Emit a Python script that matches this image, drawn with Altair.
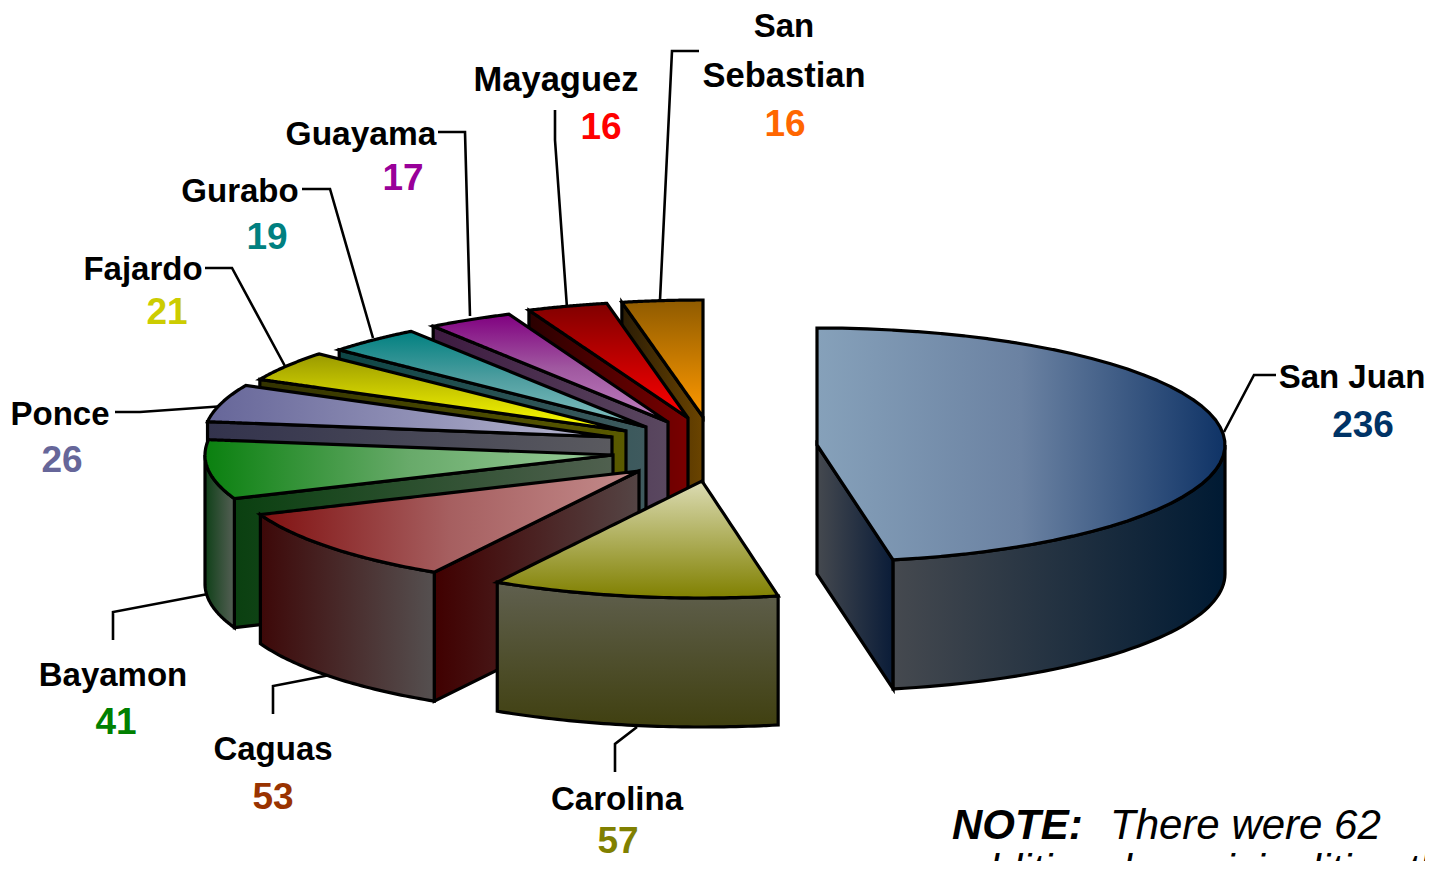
import math
import altair as alt
import pandas as pd

names = ["San Juan", "Carolina", "Caguas", "Bayamon", "Ponce", "Fajardo", "Gurabo", "Guayama", "Mayaguez", "San Sebastian"]
values = [236, 57, 53, 41, 26, 21, 19, 17, 16, 16]
label_colors = ["#003366", "#808000", "#993300", "#008000", "#666699", "#cccc00", "#008080", "#990099", "#ff0000", "#ff6600"]

apex_x = [817, 702, 639, 613, 612, 626, 646, 668, 688, 703]
apex_y = [445, 481, 471, 455, 437, 431, 427, 422, 418, 417]
RX, RY, DEPTH = 408, 117, 129

top_fill = [("h", "#86a1ba", "#6b82a2", "#0f3366"), ("v", "#dcdcb4", None, "#808000"), ("h", "#801010", "#a65f60", "#c48c8c"),
            ("h", "#0a800f", "#68aa6a", "#99cc99"), ("h", "#666699", "#8f8fb5", "#b8b8d0"), ("v", "#999900", None, "#ffff00"),
            ("v", "#008080", "#4f9ea0", "#85c2c2"), ("v", "#800080", "#a058a0", "#c080c0"), ("v", "#800000", None, "#ff0000"),
            ("v", "#8f5b00", None, "#ff9900")]
outer_fill = [("h", "#45494f", None, "#001a33"), ("v", "#60604f", None, "#404010"), ("h", "#3d0808", None, "#555050"),
              ("h", "#0f4018", None, "#555f55"), None, None, None, None, None, None]
cut_fill = [("h", "#45494f", None, "#0a1c38"), None, ("h", "#400000", None, "#554545"),
            ("h", "#0a4010", None, "#50604f"), ("h", "#33334d", None, "#5a5a5f"), ("h", "#333300", None, "#5a5a00"),
            ("h", "#0d4545", None, "#3f5a5e"), ("h", "#3d1a40", None, "#5a4860"), ("h", "#2a0000", None, "#7a0000"),
            ("h", "#2a1c05", None, "#6b4400")]

name_labels = [("San Juan", 1352, 378, 33), ("Carolina", 617, 800, 33), ("Caguas", 273, 750, 33), ("Bayamon", 113, 676, 33),
               ("Ponce", 60, 415, 33), ("Fajardo", 143, 270, 33), ("Gurabo", 240, 192, 33), ("Guayama", 361, 135, 33.5),
               ("Mayaguez", 556, 81, 34.5), ("San", 784, 27, 33), ("Sebastian", 784, 77, 34.5)]
value_labels = [(1363, 426), (618, 842), (273, 798), (116, 723), (62, 461), (167, 313), (267, 238), (403, 179), (601, 128), (785, 125)]

leaders = [[(1276, 375), (1254, 375), (1224, 432)], [(615, 772), (615, 744), (637, 727)],
           [(273, 714), (273, 686), (330, 675)], [(113, 640), (113, 612), (208, 594)],
           [(115, 412), (140, 412), (225, 406)], [(205, 268), (232, 268), (286, 368)],
           [(302, 189), (330, 189), (373, 338)], [(438, 132), (465, 132), (470, 316)],
           [(555, 110), (555, 140), (567, 308)], [(699, 51), (672, 51), (660, 300)]]

X = alt.X("x:Q", axis=None, scale=alt.Scale(domain=[8, 1425], nice=False, zero=False))
Y = alt.Y("y:Q", axis=None, scale=alt.Scale(domain=[8, 861], reverse=True, nice=False, zero=False))


def gradient(spec):
    d, c0, cm, c1 = spec
    stops = [alt.GradientStop(color=c0, offset=0)]
    if cm:
        stops.append(alt.GradientStop(color=cm, offset=0.5))
    stops.append(alt.GradientStop(color=c1, offset=1))
    return alt.LinearGradient(gradient="linear", x1=0, y1=0, x2=1 if d == "h" else 0, y2=0 if d == "h" else 1,
                              stops=stops)


def envelope(poly):
    poly = [(round(a, 2), round(b, 2)) for a, b in poly]
    rows = []
    for x in sorted({p[0] for p in poly}):
        ys = []
        for i, (x0, y0) in enumerate(poly):
            x1, y1 = poly[(i + 1) % len(poly)]
            if min(x0, x1) <= x <= max(x0, x1):
                if x0 == x1:
                    ys += [y0, y1]
                else:
                    ys.append(y0 + (y1 - y0) * (x - x0) / (x1 - x0))
        rows.append({"x": x, "y": min(ys), "y2": max(ys)})
    return pd.DataFrame(rows)


def shape(poly, fill, sw=3.2):
    return alt.Chart(envelope(poly)).mark_area(fill=gradient(fill), stroke="black", strokeWidth=sw,
                                               strokeJoin="miter", opacity=1, clip=False).encode(x=X, y=Y, y2="y2:Q")


def rim(cx, cy, deg):
    t = math.radians(deg)
    return cx + RX * math.sin(t), cy - RY * math.cos(t)


def arc(cx, cy, a, b, n=48):
    return [rim(cx, cy, a + (b - a) * k / n) for k in range(n + 1)]


layers = []
for i, seg in enumerate(leaders):
    df = pd.DataFrame([{"x": p[0], "y": p[1], "k": k} for k, p in enumerate(seg)])
    layers.append(alt.Chart(df).mark_line(color="black", strokeWidth=2.6).encode(x=X, y=Y, order="k:O"))

total = sum(values)
starts = []
acc = 0
for v in values:
    starts.append(acc)
    acc += v * 360 / total

for i in reversed(range(len(values))):
    a, b = starts[i], starts[i] + values[i] * 360 / total
    cx, cy = apex_x[i], apex_y[i]
    if cut_fill[i] is not None:
        edge = b if i == 0 else a
        p = rim(cx, cy, edge)
        layers.append(shape([(cx, cy), p, (p[0], p[1] + DEPTH), (cx, cy + DEPTH)], cut_fill[i]))
    if outer_fill[i] is not None:
        lo, hi = max(a, 90), min(b, 270)
        rimpts = arc(cx, cy, lo, hi)
        layers.append(shape(rimpts + [(x, y + DEPTH) for x, y in reversed(rimpts)], outer_fill[i]))
    layers.append(shape([(cx, cy)] + arc(cx, cy, a, b), top_fill[i]))

name_df = pd.DataFrame(name_labels, columns=["t", "x", "y", "s"])
for size, part in name_df.groupby("s"):
    layers.append(alt.Chart(part).mark_text(font="Liberation Sans", fontWeight="bold", fontSize=size, color="black",
                                            align="center", baseline="middle").encode(x=X, y=Y, text="t:N"))
val_df = pd.DataFrame({"t": [str(v) for v in values], "x": [p[0] for p in value_labels],
                       "y": [p[1] for p in value_labels], "c": label_colors})
layers.append(alt.Chart(val_df).mark_text(font="Liberation Sans", fontWeight="bold", fontSize=37,
                                          align="center", baseline="middle").encode(x=X, y=Y, text="t:N",
                                                                                      color=alt.Color("c:N", scale=None)))

note_lines = pd.DataFrame({"t": ["There were 62", "additional municipalities that"], "x": [1110, 952], "y": [839, 884]})
note_head = pd.DataFrame({"t": ["NOTE:"], "x": [952], "y": [839]})
layers.append(alt.Chart(note_head).mark_text(font="Liberation Sans", fontWeight="bold", fontStyle="italic", fontSize=42,
                                             color="black", align="left", baseline="alphabetic").encode(x=X, y=Y, text="t:N"))
layers.append(alt.Chart(note_lines).mark_text(font="Liberation Sans", fontStyle="italic", fontSize=42,
                                              color="black", align="left", baseline="alphabetic").encode(x=X, y=Y, text="t:N"))

chart = alt.layer(*layers).properties(
    width=1417, height=853, padding=0,
    autosize=alt.AutoSizeParams(type="none", contains="padding"),
).configure_view(stroke=None)

chart.save("out.html", embed_options={"renderer": "svg", "actions": False})
